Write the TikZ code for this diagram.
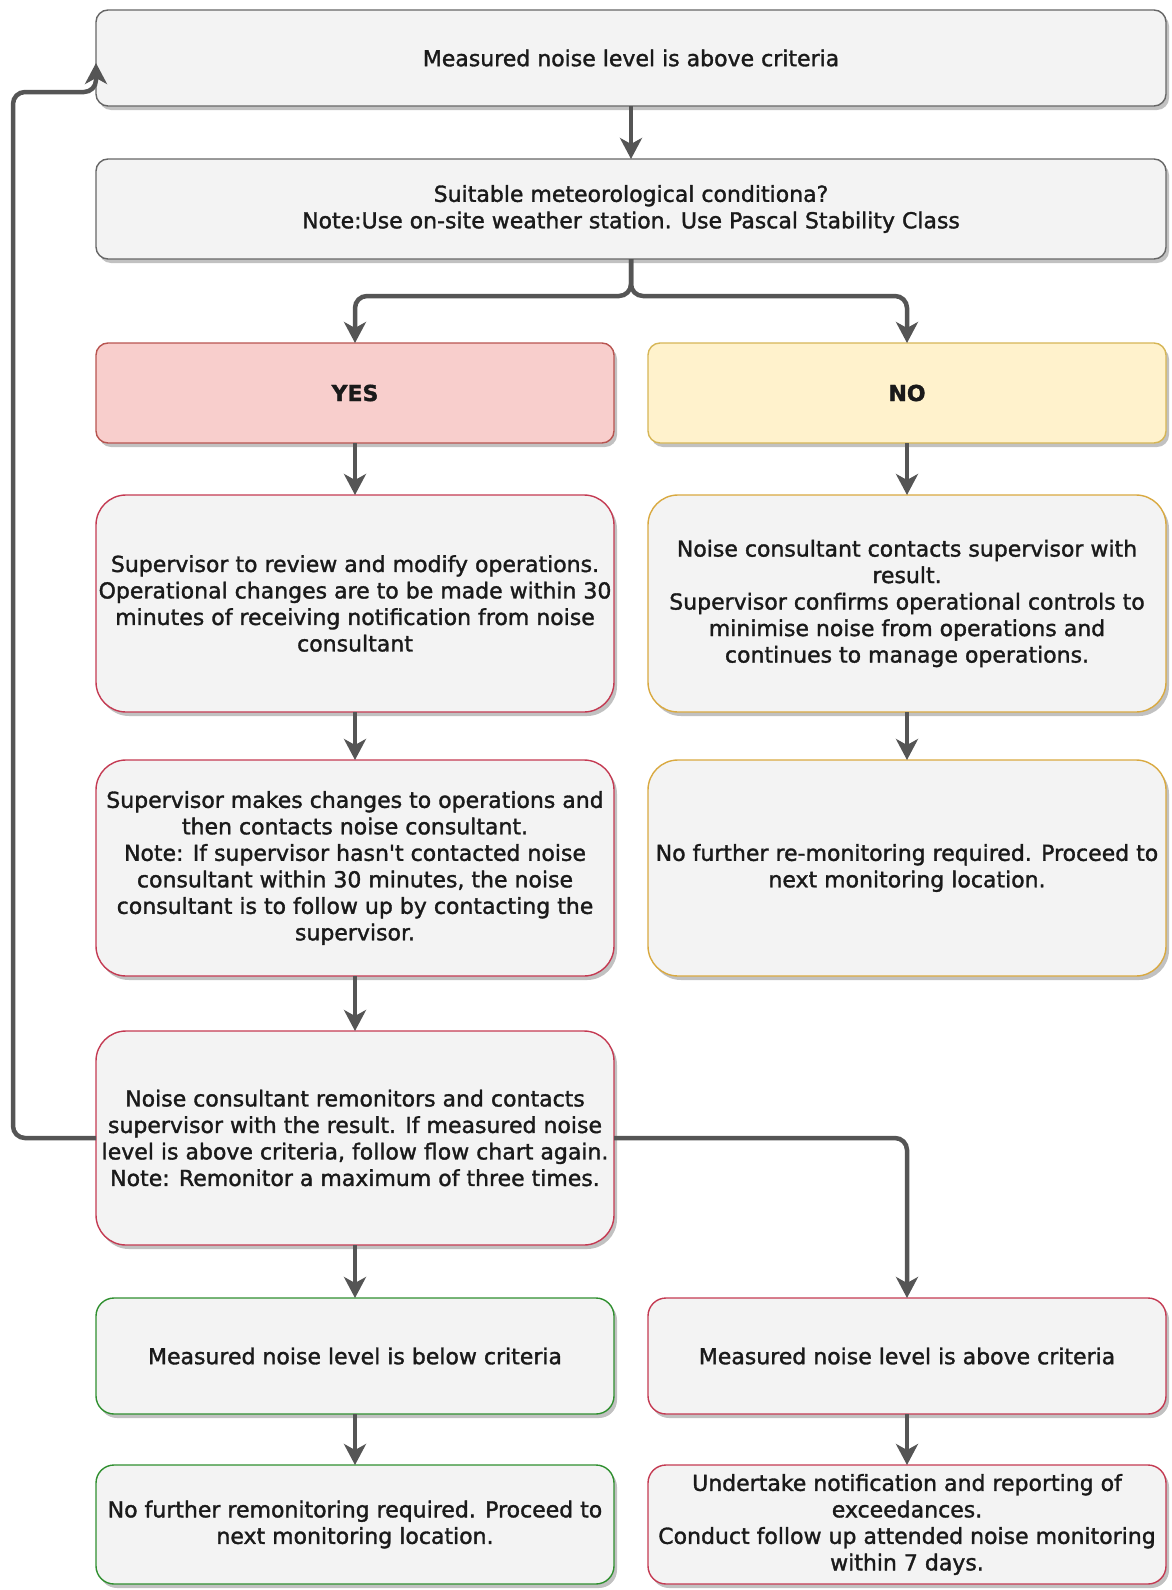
\documentclass[tikz,border=0pt]{standalone}
\usepackage{fontspec}
\setmainfont{DejaVu Sans}[RawFeature={embolden=1.5}, Ligatures=TeXOff]
\usepackage{tikz}
\usetikzlibrary{positioning, arrows.meta, shadows}

\definecolor{boxfill}{HTML}{F3F3F3}
\definecolor{boxgrey}{HTML}{666666}
\definecolor{yesfill}{HTML}{F8CECC}
\definecolor{yesline}{HTML}{B85450}
\definecolor{nofill}{HTML}{FFF2CC}
\definecolor{noline}{HTML}{D6B656}
\definecolor{redline}{HTML}{C43A52}
\definecolor{yelline}{HTML}{D9A940}
\definecolor{grnline}{HTML}{2F8F2F}
\definecolor{arrowgrey}{HTML}{555555}
\definecolor{txt}{HTML}{1A1A1A}

\begin{document}
\begin{tikzpicture}[x=1pt, y=-1pt]
	% Define styles
	\tikzset{
		block/.style={rectangle, draw, line width=1.4pt, rounded corners=12pt, fill=boxfill, align=center, text=txt, inner sep=2pt, outer sep=0pt, font=\fontsize{22}{26.5}\selectfont, drop shadow={shadow xshift=3pt, shadow yshift=-4pt, opacity=0.35, fill=black!70}},
		wide/.style={block, draw=boxgrey, minimum width=1070pt},
		col/.style={block, minimum width=518pt},
		tall/.style={col, rounded corners=30pt},
		yesblock/.style={col, draw=yesline, fill=yesfill, font=\fontsize{22}{26.5}\selectfont\bfseries},
		noblock/.style={col, draw=noline, fill=nofill, font=\fontsize{22}{26.5}\selectfont\bfseries},
		line/.style={draw=arrowgrey, line width=4.5pt, rounded corners=12pt, -{Stealth[length=21pt, width=22pt, inset=6pt]}}
	}
	\useasboundingbox (0,0) rectangle (1171,1590);

	% Nodes
	\node[wide, minimum height=96pt] (top) at (631,58) {Measured noise level is above criteria};
	\node[wide, minimum height=100pt, below=53pt of top] (met) {Suitable meteorological conditiona?\\Note:Use on-site weather station. Use Pascal Stability Class};

	\node[yesblock, minimum height=100pt, below=84pt of met.south west, anchor=north west] (yes) {YES};
	\node[noblock, minimum height=100pt, right=34pt of yes] (no) {NO};

	\node[tall, draw=redline, minimum height=217pt, below=52pt of yes] (review) {Supervisor to review and modify operations.\\Operational changes are to be made within 30\\minutes of receiving notification from noise\\consultant};
	\node[tall, draw=yelline, minimum height=217pt, below=52pt of no] (contact) {Noise consultant contacts supervisor with\\result.\\Supervisor confirms operational controls to\\minimise noise from operations and\\continues to manage operations.};

	\node[tall, draw=redline, minimum height=216pt, below=48pt of review] (change) {Supervisor makes changes to operations and\\then contacts noise consultant.\\Note: If supervisor hasn't contacted noise\\consultant within 30 minutes, the noise\\consultant is to follow up by contacting the\\supervisor.};
	\node[tall, draw=yelline, minimum height=216pt, below=48pt of contact] (nofurther) {No further re-monitoring required. Proceed to\\next monitoring location.};

	\node[tall, draw=redline, minimum height=214pt, below=55pt of change] (remon) {Noise consultant remonitors and contacts\\supervisor with the result. If measured noise\\level is above criteria, follow flow chart again.\\Note: Remonitor a maximum of three times.};

	\node[col, draw=grnline, rounded corners=18pt, minimum height=116pt, below=53pt of remon] (below) {Measured noise level is below criteria};
	\node[col, draw=redline, rounded corners=18pt, minimum height=116pt, right=34pt of below] (above) {Measured noise level is above criteria};

	\node[col, draw=grnline, rounded corners=18pt, minimum height=119pt, below=51pt of below] (nomore) {No further remonitoring required. Proceed to\\next monitoring location.};
	\node[col, draw=redline, rounded corners=18pt, minimum height=119pt, below=51pt of above] (notify) {Undertake notification and reporting of\\exceedances.\\Conduct follow up attended noise monitoring\\within 7 days.};

	% Arrows
	\path [line] (top) -- (met);
	\path [line] (met.south) -- ++(0,37) -| (yes.north);
	\path [line] (met.south) -- ++(0,37) -| (no.north);

	\path [line] (yes) -- (review);
	\path [line] (review) -- (change);
	\path [line] (change) -- (remon);
	\path [line] (remon) -- (below);
	\path [line] (below) -- (nomore);

	\path [line] (no) -- (contact);
	\path [line] (contact) -- (nofurther);
	\path [line] (remon.east) -| (above.north);
	\path [line] (above) -- (notify);

	\path [line] (remon.west) -- ++(-83,0) |- ([yshift=-34pt]top.west) -- ([yshift=-5pt]top.west);
\end{tikzpicture}
\end{document}
